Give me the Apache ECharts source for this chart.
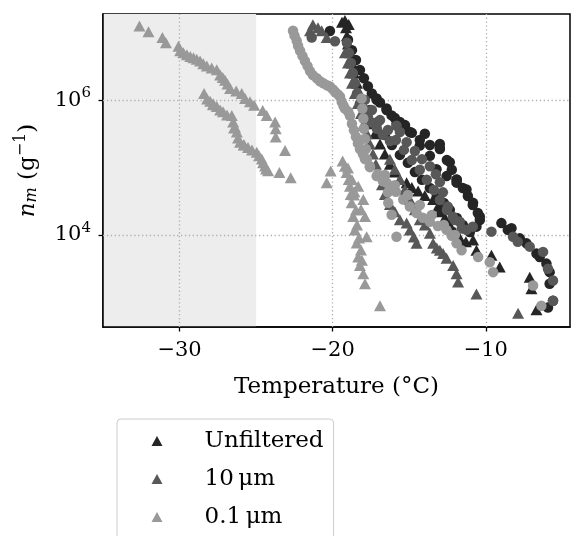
<!DOCTYPE html>
<html><head><meta charset="utf-8">
<script src="https://cdn.jsdelivr.net/npm/echarts@6/dist/echarts.min.js"></script>
<style>html,body{margin:0;padding:0;background:#fff}#c{width:571px;height:536px}</style>
</head><body><div id="c"></div>
<script>
// ---- tick labels / categories ----
const xTicks = [-30, -20, -10];
const yTicks = [1e4, 1e6];
const legendNames = ['Unfiltered', '10\u2009\u03bcm', '0.1\u2009\u03bcm'];
const shadeRange = [-35, -25];

// ---- data: [temperature (°C), n_m (g^-1)] ----
const unfTri = [[-19.39,1.45e7],[-18.95,1.35e7],[-19.20,1.54e7],[-19.13,1.21e7],[-19.07,9.2e6],[-19.00,6.9e6],[-18.87,5.1e6],[-18.74,3.6e6],[-18.61,2.55e6],[-18.41,1.80e6],[-18.22,1.27e6],[-18.02,9.0e5],[-17.76,6.4e5],[-17.50,4.5e5],[-17.24,3.2e5],[-16.91,2.26e5],[-16.59,1.60e5],[-16.26,1.13e5],[-15.94,8.6e4],[-15.61,6.7e4],[-15.17,6.0e4],[-14.83,5.1e4],[-14.42,4.5e4],[-13.98,3.85e4],[-13.44,3.36e4],[-13.11,2.67e4],[-13.00,2.22e4],[-12.67,1.80e4],[-12.35,1.41e4],[-12.02,1.11e4],[-11.70,9.0e3],[-11.30,7.9e3],[-10.83,8.4e3],[-10.61,5.9e3],[-9.63,5.0e3],[-9.09,3.33e3],[-7.13,2.36e3],[-7.02,1.58e3],[-6.69,771]];
const unfCirc = [[-20.18,1.08e7],[-19.00,8.0e6],[-18.74,5.6e6],[-18.48,4.0e6],[-18.22,2.83e6],[-17.96,2.14e6],[-17.70,1.63e6],[-17.44,1.27e6],[-17.13,1.07e6],[-16.91,9.3e5],[-16.48,7.6e5],[-16.15,6.0e5],[-15.83,4.5e5],[-15.61,4.8e5],[-15.28,4.3e5],[-14.96,3.4e5],[-13.98,3.2e5],[-14.31,2.13e5],[-13.65,1.50e5],[-13.00,2.26e5],[-13.00,1.90e5],[-13.22,9.5e4],[-12.35,1.21e5],[-12.56,7.5e4],[-11.91,6.7e4],[-11.91,6.0e4],[-11.26,4.75e4],[-10.83,3.0e4],[-10.39,1.88e4],[-10.61,1.33e4],[-8.98,1.50e4],[-8.56,1.19e4],[-8.32,1.26e4],[-7.78,8.9e3],[-7.34,7.5e3],[-6.69,5.3e3],[-6.48,4.7e3],[-6.04,3.75e3],[-5.83,2.8e3],[-5.83,1.88e3],[-5.61,1.05e3],[-5.94,836],
  [-17.13,1.02e6],[-16.48,7.2e5],[-15.94,5.5e5],[-15.28,4.2e5],[-14.83,3.3e5],[-14.31,2.59e5],[-13.65,2.18e5],[-13.00,1.97e5],[-12.54,1.30e5],[-12.22,9.3e4],[-11.89,6.6e4],[-11.50,5.0e4],[-11.17,3.8e4],[-10.85,2.79e4],[-10.52,2.12e4],[-10.39,1.67e4],
  [-17.57,7.2e5],[-17.05,4.8e5],[-16.59,3.07e5],[-16.13,2.18e5],[-15.61,1.55e5],[-15.09,1.18e5],[-14.63,8.6e4],[-14.17,6.6e4],[-13.65,5.0e4],[-13.20,3.8e4],[-12.74,2.99e4],[-12.35,2.35e4],[-11.89,1.79e4],[-11.50,1.41e4],[-11.04,1.11e4]];
const f10Tri = [[-21.29,1.34e7],[-21.48,1.09e7],[-20.72,1.09e7],[-20.39,8.6e6],[-20.96,1.21e7],[-19.20,5.1e6],[-19.00,3.6e6],[-18.87,2.55e6],[-18.74,1.80e6],[-18.55,1.27e6],[-18.35,9.0e5],[-18.15,6.4e5],[-17.96,4.5e5],[-17.76,3.2e5],[-17.57,2.26e5],[-17.37,1.60e5],[-17.18,1.13e5],[-16.98,8.0e4],[-16.78,5.6e4],[-16.59,4.0e4],[-16.26,2.83e4],[-15.94,2.22e4],[-15.61,1.68e4],[-15.17,1.50e4],[-14.96,1.19e4],[-14.70,9.3e3],[-14.52,7.5e3],[-16.26,1.34e5],[-15.94,9.5e4],[-15.61,6.7e4],[-15.28,4.75e4],[-14.96,3.36e4],[-14.63,2.38e4],[-14.31,1.68e4],[-13.98,1.41e4],[-13.65,1.06e4],[-13.44,7.5e3],[-13.20,6.4e3],[-13.00,5.9e3],[-12.79,5.3e3],[-12.56,4.5e3],[-12.13,3.5e3],[-11.91,2.65e3],[-11.81,1.99e3],[-10.61,1.33e3],[-7.89,684]];
const f10Circ = [[-21.37,8.6e6],[-19.85,7.6e6],[-19.07,7.2e6],[-18.94,5.1e6],[-18.81,3.6e6],[-18.68,2.55e6],[-18.55,1.80e6],[-18.41,1.27e6],[-18.22,9.0e5],[-17.96,7.1e5],[-17.70,5.7e5],[-17.44,4.7e5],[-17.11,3.8e5],[-16.72,3.1e5],[-16.26,2.5e5],[-15.83,4.2e5],[-15.61,3.4e5],[-15.17,2.4e5],[-14.63,1.77e5],[-14.17,1.34e5],[-13.65,1.05e5],[-13.26,8.0e4],[-13.00,6.1e4],[-12.80,4.3e4],[-12.48,2.64e4],[-12.15,1.87e4],[-11.70,1.57e4],[-11.26,1.19e4],[-10.85,1.33e4],[-9.63,1.12e4],[-8.22,9.4e3],[-7.91,7.9e3],[-7.13,6.7e3],[-6.26,5.6e3],[-5.94,3.15e3],[-5.61,2.1e3],[-5.61,1.05e3],
  [-17.89,1.02e6],[-17.44,7.2e5],[-16.91,5.1e5],[-16.39,3.64e5],[-15.87,2.59e5],[-15.35,1.84e5],[-14.83,1.30e5],[-14.31,9.3e4],[-13.85,6.6e4],[-13.39,4.67e4],[-13.00,3.31e4],[-12.54,2.35e4],[-12.02,1.67e4],[-11.57,1.25e4]];
const f01Tri = [[-32.62,1.28e7],[-32.03,1.05e7],[-31.12,8.6e6],[-30.89,7.2e6],[-30.07,6.4e6],[-29.96,5.5e6],[-29.75,5.1e6],[-29.52,4.8e6],[-29.30,4.5e6],[-29.09,4.3e6],[-28.88,4.1e6],[-28.66,3.85e6],[-28.45,3.5e6],[-28.22,3.25e6],[-27.90,3.05e6],[-27.57,2.86e6],[-27.35,2.4e6],[-27.18,2.2e6],[-27.03,2.0e6],[-26.87,1.75e6],[-26.70,1.5e6],[-26.30,1.38e6],[-25.94,1.27e6],[-25.72,1.07e6],[-25.40,9.6e5],[-25.13,8.5e5],[-24.57,7.1e5],[-24.31,6.0e5],[-23.76,4.8e5],[-23.72,3.8e5],[-23.72,2.85e5],[-23.11,1.8e5],
  [-28.40,1.27e6],[-28.00,9.7e5],[-27.80,8.9e5],[-27.57,8.1e5],[-27.16,6.8e5],[-26.59,6.0e5],[-26.50,4.8e5],[-26.38,4.0e5],[-26.26,3.4e5],[-26.05,2.4e5],[-25.80,2.2e5],[-25.53,2.0e5],[-24.96,1.7e5],[-24.63,1.35e5],[-24.42,1.06e5],[-24.22,9.0e4],[-23.48,8.5e4],[-22.74,7.1e4],
  [-28.20,1.05e6],[-27.81,8.6e5],[-27.35,7.2e5],[-26.90,6.1e5],[-26.44,3.9e5],[-26.18,2.77e5],[-25.79,2.18e5],[-25.27,1.84e5],[-24.81,1.50e5],[-24.55,1.18e5],[-24.35,9.6e4],
  [-20.13,8.95e4],[-20.39,6.0e4],[-19.35,1.26e5],[-19.20,1.05e5],[-19.09,8.5e4],[-18.95,6.7e4],[-18.87,5.3e4],[-18.82,4.0e4],[-18.76,3.0e4],[-18.66,1.88e4],[-18.55,1.19e4],[-18.43,7.6e3],[-18.33,4.7e3],[-18.22,3.5e3],[-18.00,2.65e3],[-17.89,1.88e3],[-16.91,885],[-18.33,5.3e4],[-18.00,3.36e4],[-17.89,1.88e4],[-17.78,9.4e3],[-18.58,4.4e4],[-18.15,2.4e4],
  [-19.00,9.9e4],[-18.74,6.6e4],[-18.61,3.93e4],[-18.48,2.35e4],[-18.41,1.41e4],[-18.28,9.0e3],[-18.15,6.0e3],[-18.09,4.2e3]];
const f01Circ = [[-22.59,1.09e7],[-22.49,9.2e6],[-22.35,7.7e6],[-22.26,6.5e6],[-22.13,5.5e6],[-21.97,4.6e6],[-21.81,3.86e6],[-21.64,3.24e6],[-21.48,2.73e6],[-21.29,2.38e6],[-21.04,2.14e6],[-20.83,1.93e6],[-20.61,1.80e6],[-20.37,1.68e6],[-20.18,1.61e6],[-19.98,1.46e6],[-19.85,1.35e6],[-19.65,1.23e6],[-19.52,1.14e6],[-19.41,9.55e5],[-19.30,8.4e5],[-19.20,7.6e5],[-18.98,6.8e5],[-18.87,5.9e5],[-18.74,4.5e5],[-18.61,3.6e5],[-18.48,2.88e5],[-18.35,2.3e5],[-18.22,1.90e5],[-18.02,1.58e5],[-17.89,1.34e5],[-17.57,1.05e5],[-17.05,8.0e4],[-16.48,6.0e4],[-16.39,4.3e4],[-16.37,3.0e4],[-16.15,2.0e4],[-15.83,9.4e3],
  [-18.11,1.07e6],[-18.06,7.6e5],[-18.00,5.4e5],[-17.96,3.8e5],[-17.89,2.7e5],[-17.83,1.9e5],[-17.76,1.34e5],[-17.57,1.02e5],[-17.13,7.5e4],[-16.72,6.3e4],[-16.26,5.3e4],[-15.87,4.4e4],[-15.39,3.36e4],[-14.96,2.64e4],[-14.52,2.12e4],[-14.11,1.80e4],[-13.65,1.57e4],[-13.13,1.36e4],[-12.56,1.19e4],[-12.22,9.7e3],[-11.91,7.5e3],[-11.58,5.9e3],[-10.50,4.7e3],[-9.74,3.93e3],[-9.52,2.8e3],[-6.91,1.77e3],[-6.37,885],
  [-16.59,7.8e4],[-15.94,5.5e4],[-15.09,3.93e4],[-14.31,2.79e4],[-13.53,1.98e4],[-12.74,1.41e4],[-12.02,1.0e4]];

const FONT = 'DejaVu Serif';
const colors = ['#252525', '#585858', '#999999'];

function sc(name, data, symbol, color, z) {
  return {
    type: 'scatter', name: name, data: data, symbol: symbol,
    symbolSize: symbol === 'triangle' ? [12, 11] : 10.5,
    itemStyle: { color: color, opacity: 1 }, z: z, silent: true,
    emphasis: { disabled: true }, animation: false
  };
}

const series = [
  {
    type: 'scatter', name: 'frame', data: [], silent: true, z: 0,
    markArea: { silent: true, z: 0, itemStyle: { color: '#ededed' },
      data: [[{ xAxis: shadeRange[0] }, { xAxis: shadeRange[1] }]] },
    markLine: { silent: true, z: 1, symbol: ['none', 'none'], label: { show: false },
      lineStyle: { color: '#b0b0b0', width: 1.3, type: [1.3, 2.6] },
      animation: false,
      data: xTicks.map(v => ({ xAxis: v })).concat(yTicks.map(v => ({ yAxis: v }))) }
  },
  sc(legendNames[0], unfTri, 'triangle', colors[0], 3),
  sc(legendNames[0] + ' (circles)', unfCirc, 'circle', colors[0], 3),
  sc(legendNames[1], f10Tri, 'triangle', colors[1], 4),
  sc(legendNames[1] + ' (circles)', f10Circ, 'circle', colors[1], 4),
  sc(legendNames[2], f01Tri, 'triangle', colors[2], 5),
  sc(legendNames[2] + ' (circles)', f01Circ, 'circle', colors[2], 5)
];

const chart = echarts.init(document.getElementById('c'), null, { renderer: 'canvas' });
chart.setOption({
  animation: false,
  backgroundColor: '#fff',
  grid: { left: 103, top: 14, width: 467, height: 313, show: true, borderColor: '#000', borderWidth: 1.5, backgroundColor: 'transparent' },
  xAxis: {
    type: 'value', min: -35, max: -4.5,
    axisLine: { show: true, onZero: false, lineStyle: { color: '#000', width: 1.5 } },
    axisTick: { show: true, length: 4.5, inside: false, customValues: xTicks, lineStyle: { color: '#000', width: 1.3 } },
    axisLabel: { customValues: xTicks, margin: 13, fontFamily: FONT, fontSize: 21, color: '#000',
      formatter: v => (v < 0 ? '\u2212' + Math.abs(v) : String(v)) },
    splitLine: { show: false },
    name: 'Temperature (\u00b0C)', nameLocation: 'middle', nameGap: 49,
    nameTextStyle: { fontFamily: FONT, fontSize: 23, color: '#000' }
  },
  yAxis: {
    type: 'log', logBase: 10, min: 428, max: 1.93e7,
    axisLine: { show: true, onZero: false, lineStyle: { color: '#000', width: 1.5 } },
    axisTick: { show: true, length: 4.5, inside: false, customValues: yTicks, lineStyle: { color: '#000', width: 1.3 } },
    minorTick: { show: false },
    axisLabel: { customValues: yTicks, margin: 12, color: '#000',
      formatter: v => '{b|10}{s|' + Math.round(Math.log10(v)) + '}',
      rich: { b: { fontFamily: FONT, fontSize: 21, color: '#000' },
              s: { fontFamily: FONT, fontSize: 15, color: '#000', padding: [0, 0, 14, 0] } } },
    splitLine: { show: false },
    name: '{i|n}{sb|m}{r| (g}{sp|\u22121}{r|)}', nameLocation: 'middle', nameGap: 60,
    nameTextStyle: { color: '#000', rich: {
      i: { fontFamily: FONT, fontStyle: 'italic', fontSize: 23, color: '#000' },
      sb: { fontFamily: FONT, fontStyle: 'italic', fontSize: 16, color: '#000', padding: [8, 0, 0, 0] },
      r: { fontFamily: FONT, fontSize: 23, color: '#000' },
      sp: { fontFamily: FONT, fontSize: 16, color: '#000', padding: [0, 0, 14, 0] } } }
  },
  legend: {
    show: true, orient: 'vertical', left: 117, top: 419, height: 300, width: 300,
    data: legendNames,
    itemWidth: 11, itemHeight: 10, itemGap: 12,
    padding: [9, 10, 60, 34.5],
    backgroundColor: '#fff', borderColor: '#cccccc', borderWidth: 1, borderRadius: 4,
    selectedMode: false,
    textStyle: { fontFamily: FONT, fontSize: 23, color: '#000', lineHeight: 26, padding: [0, 0, 0, 37] }
  },
  series: series
});
</script>
</body></html>
